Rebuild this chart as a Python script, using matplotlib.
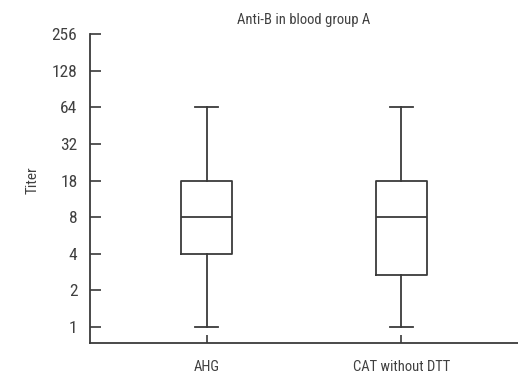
import matplotlib
matplotlib.use("Agg")
import matplotlib.pyplot as plt
from matplotlib import font_manager

categories = ["AHG", "CAT without DTT"]
whisker_low = [1, 1]
q1 = [4, 2.7]
median = [8, 8]
q3 = [16, 16]
whisker_high = [64, 64]
ytick_values = [1, 2, 4, 8, 16, 32, 64, 128, 256]
ytick_labels = ["1", "2", "4", "8", "18", "32", "64", "128", "256"]
title = "Anti-B in blood group A"
ylabel = "Titer"

fl = font_manager.fontManager.ttflist
names = {f.name for f in fl}
stretch = "normal"
if "Liberation Sans Narrow" in names:
    fam = ["Liberation Sans Narrow", "DejaVu Sans"]
elif "Roboto Condensed" in names:
    fam = ["Roboto Condensed", "DejaVu Sans"]
else:
    fam = ["DejaVu Sans"]
    stretch = "condensed"
plt.rcParams['font.family'] = fam
plt.rcParams['font.stretch'] = stretch

line_c = "#3a3a3a"
text_c = "#404040"

fig = plt.figure(figsize=(5.18, 3.77), dpi=100)
ax = fig.add_axes([90/518, 1-343/377, 428/518, (343-34)/377])

stats = []
for i, c in enumerate(categories):
    stats.append(dict(label=c, whislo=whisker_low[i], q1=q1[i], med=median[i],
                      q3=q3[i], whishi=whisker_high[i], fliers=[]))

lp = dict(color=line_c, linewidth=1.3)
ax.bxp(stats, positions=[1, 2], widths=0.26, capwidths=0.12, showfliers=False,
       boxprops=lp, whiskerprops=lp, capprops=lp,
       medianprops=dict(color=line_c, linewidth=1.3))

ax.set_yscale("log", base=2)
ax.set_ylim(0.74, 256)
ax.set_xlim(0.4, 2.6)
ax.set_yticks(ytick_values)
ax.set_yticklabels(ytick_labels)
ax.minorticks_off()
ax.set_xticks([1, 2])
ax.set_xticklabels(categories)

for s in ["top", "right"]:
    ax.spines[s].set_visible(False)
for s in ["left", "bottom"]:
    ax.spines[s].set_color(line_c)
    ax.spines[s].set_linewidth(1.3)

ax.tick_params(axis="y", direction="in", length=8, width=1.2, color=line_c,
               labelsize=12.5, labelcolor=text_c, pad=9)
ax.tick_params(axis="x", direction="in", length=6, width=1.2, color=line_c,
               labelsize=10.5, labelcolor=text_c, pad=12)

ax.set_title(title, fontsize=10.5, color=text_c, pad=7)
ax.set_ylabel(ylabel, fontsize=11, color=text_c)
ax.yaxis.set_label_coords(-50/428, 0.527)

fig.savefig("out.png", dpi=100)
